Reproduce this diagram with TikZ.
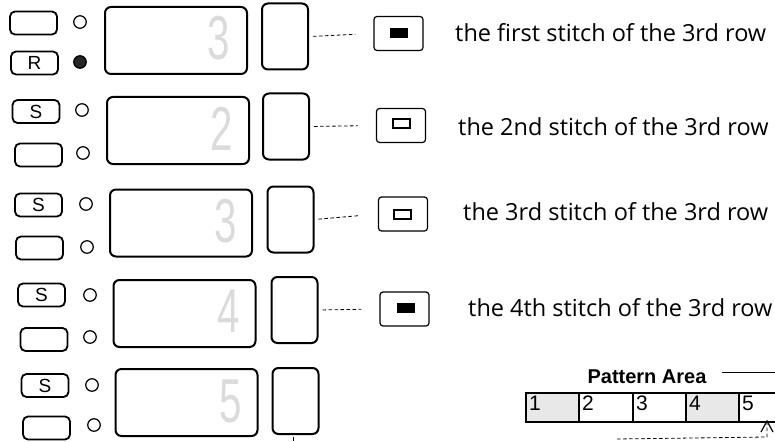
\documentclass[tikz,border=0pt]{standalone}
\usepackage{fontspec}
\setmainfont{Open Sans}
\newfontfamily\helv{Liberation Sans}
\usetikzlibrary{arrows.meta}
\begin{document}
\begin{tikzpicture}[x=1pt,y=-1pt,
  btn/.style={draw, line width=1.8pt, rounded corners=5pt, minimum width=47pt, minimum height=23pt, inner sep=0pt, font=\helv\fontsize{19}{19}\selectfont},
  lamp/.style={draw, circle, line width=1.2pt, minimum size=12.5pt, inner sep=0pt},
  lampon/.style={lamp, fill=black!85},
  disp/.style={draw, line width=2pt, rounded corners=6pt, minimum width=142pt, minimum height=67pt, inner sep=0pt},
  side/.style={draw, line width=2pt, rounded corners=6pt, minimum width=46pt, minimum height=66pt, inner sep=0pt},
  stitchbox/.style={draw, line width=1.2pt, rounded corners=3pt, minimum width=49pt, minimum height=34pt, inner sep=0pt},
  markon/.style={fill=black, minimum width=18pt, minimum height=10pt, inner sep=0pt},
  markoff/.style={draw, line width=1.1pt, minimum width=17pt, minimum height=9pt, inner sep=0pt},
  conn/.style={line width=0.8pt, dash pattern=on 3.5pt off 2.5pt, shorten <=4pt, shorten >=18pt},
  lbl/.style={anchor=west, inner sep=0pt, font=\fontsize{23.5}{23.5}\selectfont},
  digit/.style={inner sep=0pt, text=black!14, font=\helv\fontsize{62}{62}\selectfont},
  num/.style={anchor=north west, inner sep=0pt, font=\helv\fontsize{21}{21}\selectfont},
  cellline/.style={line width=1.1pt}
]
\useasboundingbox (0,0) rectangle (775,441);

% Row 1
\node[btn] (b1a) at (33.5,23) {};
\node[btn] (b1b) at (34.5,63) {R};
\node[lamp] (c1a) at (80,22) {};
\node[lampon] (c1b) at (80,62) {};
\node[disp] (d1) at (176,40.5) {};
\node[digit] (g1) at (219,38.5) {\scalebox{0.65}[1]{3}};
\node[side] (s1) at (285,36.5) {};
\node[stitchbox] (k1) at (398.5,33.5) {};
\node[markon] (k1i) at (398.5,33) {};
\node[lbl] (t1) at (455,33) {the first stitch of the 3rd row};
\draw[conn] (s1.east) -- (k1.west);

% Row 2
\node[btn] (b2a) at (36,111.5) {S};
\node[btn] (b2b) at (38.5,155) {};
\node[lamp] (c2a) at (82,110) {};
\node[lamp] (c2b) at (83,153) {};
\node[disp] (d2) at (178,130.5) {};
\node[digit] (g2) at (222,128.5) {\scalebox{0.65}[1]{2}};
\node[side] (s2) at (286,126.5) {};
\node[stitchbox] (k2) at (401,125.5) {};
\node[markoff] (k2i) at (401.5,123.5) {};
\node[lbl] (t2) at (458,127) {the 2nd stitch of the 3rd row};
\draw[conn] (s2.east) -- (k2.west);

% Row 3
\node[btn] (b3a) at (38.5,205) {S};
\node[btn] (b3b) at (39.5,248) {};
\node[lamp] (c3a) at (86,204) {};
\node[lamp] (c3b) at (87,247) {};
\node[disp] (d3) at (181,223) {};
\node[digit] (g3) at (226,221) {\scalebox{0.65}[1]{3}};
\node[side] (s3) at (290.5,219.5) {};
\node[stitchbox] (k3) at (403,214) {};
\node[markoff] (k3i) at (402.5,214.5) {};
\node[lbl] (t3) at (463,212) {the 3rd stitch of the 3rd row};
\draw[conn] (s3.east) -- (k3.west);

% Row 4
\node[btn] (b4a) at (41.5,295) {S};
\node[btn] (b4b) at (44,339.5) {};
\node[lamp] (c4a) at (90,295) {};
\node[lamp] (c4b) at (90,337) {};
\node[disp] (d4) at (184.5,313.5) {};
\node[digit] (g4) at (228.5,311.5) {\scalebox{0.65}[1]{4}};
\node[side] (s4) at (294.5,310) {};
\node[stitchbox] (k4) at (404.5,309) {};
\node[markon] (k4i) at (405.5,307.5) {};
\node[lbl] (t4) at (468,308) {the 4th stitch of the 3rd row};
\draw[conn] (s4.east) -- (k4.west);

% Row 5
\node[btn] (b5a) at (45,385.5) {S};
\node[btn] (b5b) at (46.5,428) {};
\node[lamp] (c5a) at (92,385) {};
\node[lamp] (c5b) at (94,425) {};
\node[disp] (d5) at (186.5,402.5) {};
\node[digit] (g5) at (231,401) {\scalebox{0.65}[1]{5}};
\node[side] (s5) at (295.5,401) {};
\draw[line width=0.6pt] (293,437) -- (293,441);

% Pattern area
\node[inner sep=0pt, font=\helv\bfseries\fontsize{20}{20}\selectfont] (pa) at (647,377) {Pattern Area};
\coordinate (pl) at (722,372);
\coordinate (pr) at (775,372);
\draw[line width=1pt] (pl) -- (pr);
\fill[black!9] (526,393) rectangle (579,422);
\fill[black!9] (686,393) rectangle (739,422);
\draw[cellline] (776,393) -- (526,393) -- (526,422) -- (776,422);
\foreach \x in {579,633,686,739} \draw[cellline] (\x,393) -- (\x,422);
\node[num] (n1) at (529,396) {1};
\node[num] (n2) at (582,396) {2};
\node[num] (n3) at (636,396) {3};
\node[num] (n4) at (689,396) {4};
\node[num] (n5) at (742,396) {5};
\coordinate (ds) at (617,439);
\coordinate (dc) at (767,437);
\coordinate (dt) at (767,421);
\draw[line width=0.8pt, dash pattern=on 3.5pt off 2.5pt] (ds) -- (dc) -- (dt);
\draw[line width=1.2pt, line join=miter] ([shift={(-6,11)}]dt) -- (dt) -- ([shift={(6,11)}]dt);
\end{tikzpicture}
\end{document}
